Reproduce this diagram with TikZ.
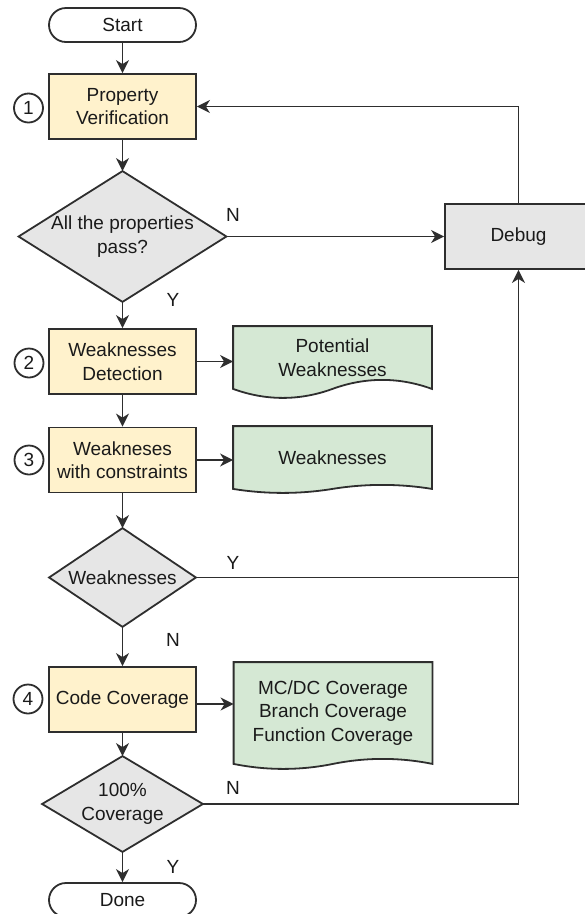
\documentclass[tikz,border=0pt]{standalone}
\usepackage{fontspec}
\setmainfont{Liberation Sans}
\usetikzlibrary{arrows.meta,calc,backgrounds}

\definecolor{boxyellow}{HTML}{FFF2CC}
\definecolor{docgreen}{HTML}{D5E8D4}
\definecolor{decgray}{HTML}{E6E6E6}
\definecolor{edge}{HTML}{2E2E2E}
\definecolor{ink}{HTML}{1A1A1A}

\tikzset{
  base/.style={line width=1.8pt, draw=edge, text=ink,
    font=\fontsize{19}{23.5}\selectfont, align=center, inner sep=0pt},
  terminal/.style={base, rectangle, rounded corners=17pt,
    minimum width=147pt, minimum height=34pt, fill=white},
  process/.style={base, rectangle, fill=boxyellow,
    minimum width=147pt, minimum height=65pt},
  debugbox/.style={base, rectangle, fill=decgray,
    minimum width=147pt, minimum height=65pt},
  docbody/.style={base, draw=none, rectangle, minimum width=197pt},
  decision/.style={base, draw=none, rectangle},
  stepnum/.style={base, circle, minimum size=29pt, fill=white},
  flow/.style={line width=1.8pt, draw=edge,
    -{Stealth[length=13pt,width=13pt,inset=4pt]}},
  plainline/.style={line width=1.8pt, draw=edge},
  lbl/.style={text=ink, font=\fontsize{19}{23.5}\selectfont, inner sep=0pt},
}

% diamond outline drawn on the anchors of a plain rectangle node
\newcommand\decisionoutline[1]{%
  \draw[line width=1.8pt, draw=edge, fill=decgray]
    (#1.north) -- (#1.east) -- (#1.south) -- (#1.west) -- cycle;}

% document outline: flat top, wavy bottom of amplitude #2
\newcommand\documentoutline[2]{%
  \draw[line width=1.8pt, draw=edge, fill=docgreen]
    (#1.north west) -- (#1.north east) -- (#1.south east)
    .. controls ($(#1.south east)+(-32.8,-4*#2/3)$) and ($(#1.south)+(32.8,-4*#2/3)$) .. (#1.south)
    .. controls ($(#1.south)+(-32.8,4*#2/3)$) and ($(#1.south west)+(32.8,4*#2/3)$) .. (#1.south west)
    -- cycle;}

\begin{document}
\begin{tikzpicture}[x=1pt, y=-1pt]
  \useasboundingbox (0,0) rectangle (585,914);

  % main column
  \node[terminal] (start) at (122.5,25) {Start};
  \node[process] (pv) at (122.5,106.5) {Property\\Verification};
  \node[decision, minimum width=206pt, minimum height=129pt] (d1) at (122.5,236.5)
    {All the properties\\pass?};
  \node[process] (wd) at (122.5,361.5) {Weaknesses\\Detection};
  \node[process] (wc) at (122.5,460) {Weakneses\\with constraints};
  \node[decision, minimum width=145pt, minimum height=97pt] (d2) at (122.5,577.5)
    {Weaknesses};
  \node[process] (cc) at (122.5,699.5) {Code Coverage};
  \node[decision, minimum width=159pt, minimum height=94pt] (d3) at (122.5,804)
    {100\%\\Coverage};
  \node[terminal] (done) at (122.5,900) {Done};

  % side column
  \node[debugbox] (debug) at (518.5,236.5) {Debug};
  \node[docbody, minimum height=61pt] (pw) at (332.5,357.5) {Potential\\Weaknesses};
  \node[docbody, minimum height=61pt] (wk) at (332.5,457.5) {Weaknesses};
  \node[docbody, minimum height=100pt] (mc) at (333,713)
    {MC/DC Coverage\\Branch Coverage\\Function Coverage};

  % step numbers
  \node[stepnum] (n1) at (28.5,108) {1};
  \node[stepnum] (n2) at (29,363) {2};
  \node[stepnum] (n3) at (29,460) {3};
  \node[stepnum] (n4) at (28,699) {4};

  \begin{scope}[on background layer]
    \decisionoutline{d1}
    \decisionoutline{d2}
    \decisionoutline{d3}
    \documentoutline{pw}{9}
    \documentoutline{wk}{4}
    \documentoutline{mc}{5}
  \end{scope}

  % connectors
  \draw[flow] (start.south) -- (pv.north);
  \draw[flow] (pv.south) -- (d1.north);
  \draw[flow] (d1.east) -- (debug.west);
  \draw[flow] (d1.south) -- (wd.north);
  \draw[flow] (wd.east) -- (wd.east -| pw.west);
  \draw[flow] (wd.south) -- (wc.north);
  \draw[flow] (wc.east) -- (wc.east -| wk.west);
  \draw[flow] (wc.south) -- (d2.north);
  \draw[flow] (d2.south) -- (cc.north);
  \draw[flow] ([yshift=-4.5pt]cc.east) -- ([yshift=-4.5pt]cc.east -| mc.west);
  \draw[flow] (cc.south) -- (d3.north);
  \draw[flow] (d3.south) -- (done.north);
  \draw[plainline] (d2.east) -- (d2.east -| debug.south);
  \draw[flow] (d3.east) -- (d3.east -| debug.south) -- (debug.south);
  \draw[flow] (debug.north) |- (pv.east);

  % branch labels
  \node[lbl] (l1n) at (233,215) {N};
  \node[lbl] (l1y) at (173,300) {Y};
  \node[lbl] (l2y) at (233,563) {Y};
  \node[lbl] (l2n) at (173,640) {N};
  \node[lbl] (l3n) at (233,788) {N};
  \node[lbl] (l3y) at (173,867) {Y};
\end{tikzpicture}
\end{document}
